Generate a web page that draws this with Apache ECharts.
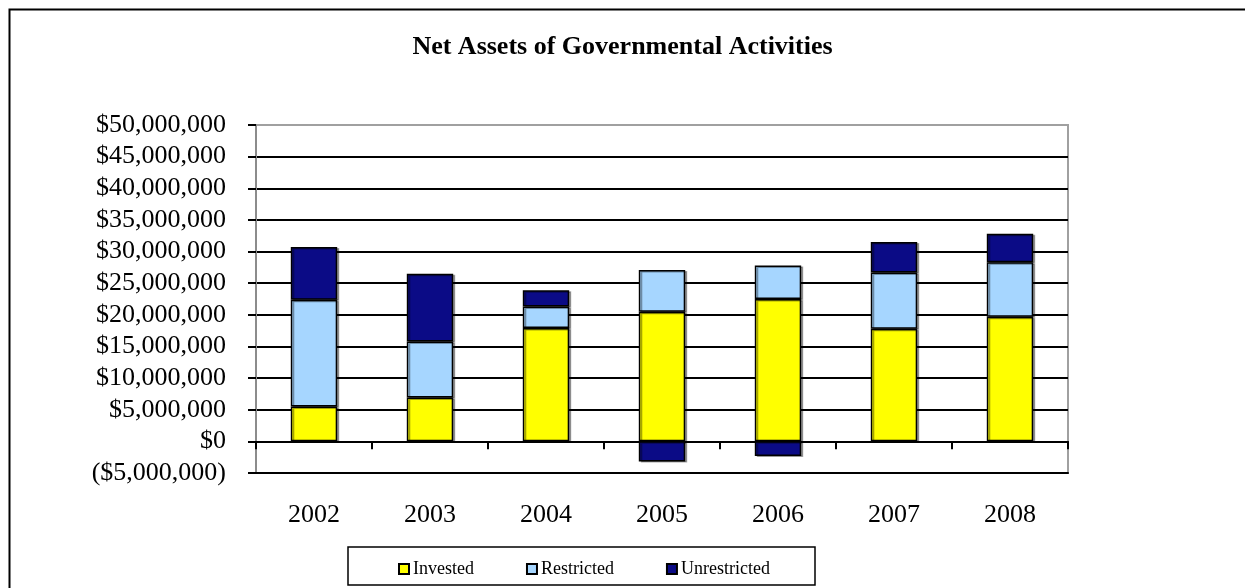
<!DOCTYPE html>
<html>
<head>
<meta charset="utf-8">
<title>Net Assets of Governmental Activities</title>
<script src="https://cdn.jsdelivr.net/npm/echarts@6/dist/echarts.min.js"></script>
<style>
  html, body { margin: 0; padding: 0; background: #ffffff; }
  #chart { width: 1245px; height: 588px; }
</style>
</head>
<body>
<div id="chart"></div>
<script>
// Fiscal years shown on the category axis
const years = ['2002', '2003', '2004', '2005', '2006', '2007', '2008'];

// Net asset components, in dollars
const invested     = [5500000, 6950000, 17900000, 20500000, 22500000, 17800000, 19700000];
const restricted   = [16900000, 8850000, 3400000, 6600000, 5300000, 8900000, 8600000];
const unrestricted = [8300000, 10700000, 2600000, -3200000, -2300000, 4800000, 4500000];

// Value axis range and step
const axisMin = -5000000;
const axisMax = 50000000;
const axisStep = 5000000;

const seriesNames = ['Invested', 'Restricted', 'Unrestricted'];
const seriesColors = ['#FFFF00', '#A6D6FF', '#0B0B86'];

const FONT = '"Liberation Serif", "Times New Roman", serif';

function money(v) {
  const s = '$' + Math.abs(v).toLocaleString('en-US');
  return v < 0 ? '(' + s + ')' : s;
}

// Gridline colours: the top line sits on the plot frame and stays grey
const nLines = Math.round((axisMax - axisMin) / axisStep) + 1;
const gridColors = [];
for (let i = 0; i < nLines; i++) gridColors.push(i === nLines - 1 ? '#a0a0a0' : '#000000');

const chart = echarts.init(document.getElementById('chart'), null, { renderer: 'canvas' });

function barSeries(name, values, color) {
  return {
    name: name,
    type: 'bar',
    stack: 'net',
    xAxisIndex: 0,
    yAxisIndex: 0,
    barWidth: '40%',
    data: values,
    itemStyle: {
      color: color,
      borderColor: '#000000',
      borderWidth: 1.5,
      shadowColor: 'rgba(0,0,0,0.35)',
      shadowOffsetX: 2,
      shadowOffsetY: 1,
      shadowBlur: 0
    },
    emphasis: { disabled: true }
  };
}

chart.setOption({
  animation: false,
  backgroundColor: '#ffffff',
  textStyle: { fontFamily: FONT },
  title: {
    text: 'Net Assets of Governmental Activities',
    left: 'center',
    top: 34,
    padding: 0,
    textStyle: { fontFamily: FONT, fontSize: 26, fontWeight: 'bold', color: '#000000' }
  },
  legend: {
    data: seriesNames,
    left: 398,
    top: 560,
    padding: 0,
    itemGap: 52,
    itemWidth: 10,
    itemHeight: 10,
    icon: 'rect',
    selectedMode: false,
    textStyle: { fontFamily: FONT, fontSize: 18, color: '#000000', padding: [1, 0, 0, -1] }
  },
  grid: {
    left: 256,
    right: 177,
    top: 125,
    bottom: 115,
    show: true,
    backgroundColor: '#ffffff',
    borderColor: '#a0a0a0',
    borderWidth: 2
  },
  xAxis: [
    {
      type: 'category',
      data: years,
      position: 'bottom',
      axisLine: { show: true, onZero: true, lineStyle: { color: '#000000', width: 2 } },
      axisTick: { show: true, alignWithLabel: false, length: 8, lineStyle: { color: '#000000', width: 2 } },
      axisLabel: { show: false },
      splitLine: { show: false }
    },
    {
      type: 'category',
      data: years,
      position: 'bottom',
      axisLine: { show: true, onZero: false, lineStyle: { color: '#000000', width: 2 } },
      axisTick: { show: false },
      axisLabel: { show: true, margin: 29, fontFamily: FONT, fontSize: 26, color: '#000000' },
      splitLine: { show: false }
    }
  ],
  yAxis: {
    type: 'value',
    min: axisMin,
    max: axisMax,
    interval: axisStep,
    axisLine: { show: true, lineStyle: { color: '#8c8c8c', width: 2 } },
    axisTick: { show: true, length: 8, lineStyle: { color: '#000000', width: 2 } },
    axisLabel: { margin: 30, fontFamily: FONT, fontSize: 26, color: '#000000', formatter: money },
    splitLine: { show: true, lineStyle: { color: gridColors, width: 2 } }
  },
  series: [
    barSeries(seriesNames[0], invested, seriesColors[0]),
    barSeries(seriesNames[1], restricted, seriesColors[1]),
    barSeries(seriesNames[2], unrestricted, seriesColors[2])
  ],
  graphic: [
    {
      // outer frame around the whole chart
      type: 'rect',
      left: 7, top: 7,
      shape: { x: 0, y: 0, width: 1300, height: 700 },
      style: { fill: null, stroke: '#000000', lineWidth: 2 },
      silent: true,
      z: 100
    },
    {
      // legend box
      type: 'rect',
      shape: { x: 348, y: 547, width: 467, height: 38 },
      style: { fill: null, stroke: '#000000', lineWidth: 1.5 },
      silent: true,
      z: 100
    }
  ]
});
</script>
</body>
</html>
